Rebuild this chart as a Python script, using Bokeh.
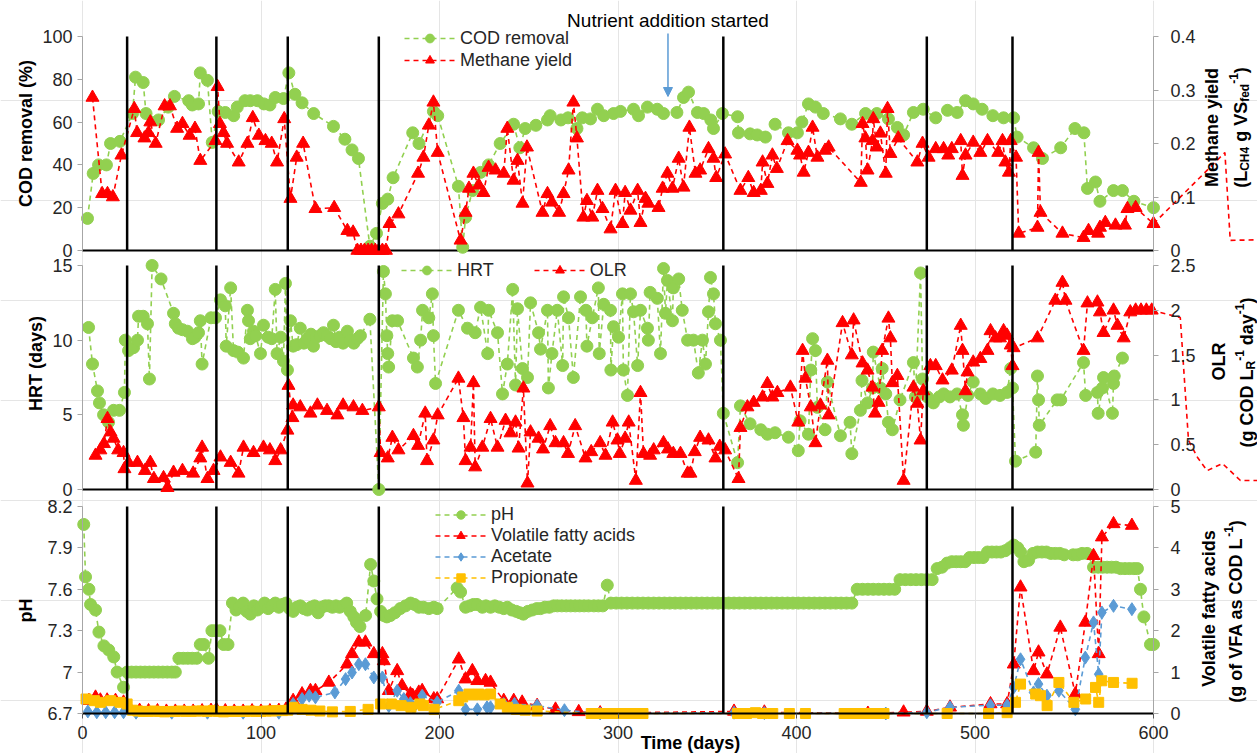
import math
from bokeh.plotting import figure
from bokeh.models import (Range1d, LinearAxis, FixedTicker, CustomJSTickFormatter,
                          Label, Legend, LegendItem, Arrow, NormalHead, ColumnDataSource)
from bokeh.embed import file_html
from bokeh.resources import INLINE

# ---------------- data (day, value) ----------------
x_min, x_max = 0, 600
phase_days = [25, 75, 115, 166, 359, 473, 521]
nutrient_day = 328

cod = [(2.8,15),(6,36),(9,40),(13.4,40),(15.7,50),(21,51),(28,64),(29.7,81),(34,78.5),(35.6,64),(42.6,61),(48,67),(51.5,72),(59.5,70),(61.5,68),(65,68.5),(66,83),(70,79.5),(72.7,50.5),(76,65),(80,64.5),(84.7,63),(86.7,67),(91,70),(94,70),(98,70),(101.6,68.5),(105,68),(108,71.5),(112.6,71),(115.6,83),(119,73),(123,69),(129.5,64),(140.6,58),(147,52),(151,47),(154.6,43),(161,2),(164.7,8),(168,22),(171,24),(174,34),(185,55),(188.5,50),(196.6,65),(199,63),(210.6,30),(213,1.5),(214.6,15.5),(218.5,28),(223,36.5),(227.5,40),(234,50),(241.5,59),(245,48),(248,57),(254,58.5),(260.5,61),(262,63),(268,61),(272,62),(277,57),(280,62),(284.6,61.5),(288.5,66),(292,63),(297.5,64),(301.4,65),(308.7,66),(311.5,63),(316.5,67),(322,66),(325.5,64),(333,64.5),(336.7,71.5),(339.5,74),(344.5,64.5),(348,64),(352,61),(353.5,57),(358.5,64),(367,62.5),(367.5,55),(374,54.5),(378,54),(382.6,53),(388,59),(395.5,55),(400.5,55),(403,60),(406.7,68.5),(410.6,67),(415,64),(424.6,61.5),(431,59),(438.7,64),(445,64),(451.5,61.5),(456.5,57.5),(460,54),(465.5,64.5),(471,66),(478,62),(484.6,65.5),(490,64.5),(494.7,70),(499,68.5),(504,66),(510,63),(516,62),(521.6,62),(523.6,53),(532.8,48),(537.8,43),(548,48),(556,57),(561,55),(563,29),(567.5,32),(570,23),(577.6,28),(582.6,28),(589,23),(600,20)]

methane = [(5.6,.286),(11,.106),(14,.106),(17,.1),(21.8,.178),(29,.265),(30.6,.22),(34.7,.21),(37,.22),(38,.24),(41,.2),(46,.27),(49,.27),(53,.228),(56,.237),(60,.215),(63,.228),(66,.168),(74.5,.205),(75.7,.306),(77,.237),(79,.22),(81,.2),(87.5,.165),(92.4,.2),(95.4,.248),(98.8,.215),(102.5,.205),(106,.2),(109,.165),(113,.246),(116.5,.097),(120,.174),(123.6,.2),(130.5,.078),(141,.08),(148.4,.037),(151.6,.034),(154,0),(156,0),(158,0),(160,0),(162,0),(164,0),(166,0),(168,0),(170,0),(172,.05),(177,.068),(188,.144),(191,.174),(194,.234),(196.6,.277),(199,.183),(211.8,.019),(214.6,.071),(216.5,.116),(219,.144),(222,.122),(224.6,.108),(227.5,.155),(231.4,.15),(236,.144),(238,.228),(241.5,.131),(243.7,.168),(246.5,.088),(249,.193),(257.7,.071),(260.5,.106),(263,.09),(267,.071),(269.5,.106),(272.3,.15),(275,.277),(277,.21),(280.6,.062),(282.6,.093),(285.6,.062),(288.5,.112),(291.3,.078),(295.8,.04),(298.6,.112),(302.5,.05),(304,.108),(307,.075),(311,.112),(312.6,.052),(315.4,.097),(317,.088),(322.7,.08),(325,.116),(327.7,.144),(330.5,.116),(334,.172),(336.7,.118),(340,.23),(343.4,.144),(346,.15),(350.7,.19),(353.5,.172),(355,.136),(360,.18),(368.6,.112),(373,.136),(376,.108),(380,.112),(381,.165),(383.7,.125),(386.5,.178),(389,.153),(395,.205),(400.5,.187),(402,.178),(404,.146),(406.7,.183),(409,.23),(411.7,.174),(416,.187),(418,.193),(436,.127),(437,.237),(438.6,.21),(439.8,.15),(442.6,.205),(443,.246),(445,.193),(447,.219),(450,.144),(451,.265),(452.6,.181),(457,.21),(467.7,.165),(470.6,.2),(474,.174),(478,.19),(482.4,.19),(485,.178),(487,.19),(492,.205),(493,.14),(494.7,.178),(499,.202),(503,.183),(507,.205),(513,.183),(515.4,.205),(517,.165),(519,.146),(520,.205),(523,.174),(524.5,.032),(535,.043),(535.6,.183),(536.7,.071),(549,.032),(560.8,.024),(563.6,.037),(569,.032),(570,.043),(573,.052),(578.7,.047),(584,.047),(585.4,.078),(590,.08),(600,.05)]
# the reference's dashed methane line runs on past the end of the axis (no markers)
methane_past_axis = [(600,.05),(640,.183),(643,.019),(660,.02)]

hrt = [(3.4,10.85),(5.6,8.4),(8.4,6.6),(9.5,5.8),(11.8,5.0),(14.6,4.5),(17.4,5.3),(20.7,5.3),(23.5,6.5),(24,10),(25.8,9.3),(28.6,9.5),(30.8,10),(31.4,11.6),(34,11.6),(36.4,11.1),(37.5,7.4),(39,15),(44,14.1),(51,11.8),(52,11.1),(53.8,10.8),(56,10.7),(58.8,10.6),(61.6,10.1),(63,10.2),(65,10.5),(66,11.3),(67,8.4),(72,11.5),(74.5,11.5),(77.3,12.7),(80,12.3),(80.5,9.6),(83,13.5),(84.6,9.3),(87,9.2),(90.2,8.8),(92.4,12),(93,11.3),(94,10.1),(95.8,10.6),(97,10.3),(99.7,9.1),(101.4,11),(104,10.2),(106,10.1),(108,13.4),(109,9.1),(111,10.2),(112.6,8.6),(113.7,13.8),(114.8,8.0),(116.5,11.3),(118,9.6),(120,9.7),(122,10.8),(124,9.8),(126,10.1),(128,10.4),(129.4,9.6),(131,10.2),(133,10.3),(135,10.5),(137,10.3),(139,10.1),(140.6,11),(142,9.9),(144,10.2),(146,9.8),(148.4,10.6),(150,10.0),(152,9.8),(154,10.1),(155.7,10.3),(161,11.4),(166,0),(168.6,14.6),(169.7,13.1),(170.5,10.3),(171,9.1),(171.5,8.2),(173.6,11.3),(176.5,11.3),(185.4,8.8),(187.6,8.2),(189.4,10),(190.5,12),(194,11.5),(196,13.1),(196.6,10.3),(197.8,7.1),(210.6,12),(215.7,10.8),(220,10.5),(223,12.2),(227,9.1),(227.5,12),(232.5,10.5),(235.3,6.4),(238,8.4),(241,13.4),(242.6,7.0),(243.7,12.1),(246.5,8.1),(249.3,7.5),(251,12.5),(255.5,10.5),(256.6,9.4),(260.5,12),(261,6.8),(263,9.1),(266,12),(269,8.3),(269.5,12.9),(272.3,11.5),(275,7.5),(279,12.9),(282,12),(282.6,9.6),(285.6,11.5),(289,13.5),(289.5,9.1),(292,12.4),(295.8,12),(296,8),(297.5,10.9),(300.3,10.2),(302.5,13.1),(303,8),(305.3,6.3),(307,13.1),(308.7,11.9),(311,8.3),(312.6,12),(316.5,10.8),(317,10),(318,13.2),(322,12.8),(323.8,9.1),(325.5,14.8),(326.6,11.8),(327.7,14),(330.5,11.3),(331,13.5),(334,14.1),(336,12),(339,10),(342.3,10),(345,7.8),(347.3,10),(349,8.4),(350.7,11.9),(351.8,14.2),(353.5,13.1),(354.6,11.1),(357.4,10),(359,5.1),(367,1.8),(368.6,5.6),(374,4.4),(380,4.0),(383.7,3.7),(388,3.8),(395.5,3.5),(401,2.6),(402,4.6),(406.7,3.7),(408,8.0),(409,10.1),(410.6,9.3),(411.7,5.5),(416,4.0),(417.3,7.2),(424.6,3.6),(430,4.5),(431,2.4),(435.8,5.3),(436.7,7.3),(439.8,5.8),(442.6,6.8),(443,9.2),(447,6.8),(448,8.1),(450,6.4),(451.5,4.5),(453.7,4.0),(458,6.0),(465.5,8.5),(466.6,6.2),(469.5,14.5),(470.6,7.4),(473.4,6.2),(476.7,5.8),(480,6.2),(482.4,6.4),(486,6.2),(490,6.4),(493,5.0),(493.5,4.3),(496,6.3),(499,7.2),(503,6.4),(506,6.1),(510,6.4),(514,6.3),(518,6.5),(520,8.1),(521,6.8),(522.7,1.9),(534,2.5),(535,7.6),(535.6,6.0),(536,4.3),(546,6.0),(548,6.0),(560.8,8.5),(562,6.3),(568.6,6.5),(569,5.1),(571.4,6.8),(572,7.5),(577,5.1),(577.6,7.1),(578,7.6),(582.6,8.8)]

olr = [(7.3,.38),(10,.44),(12,.51),(14,.79),(15.7,.64),(17.4,.57),(20,.44),(23,.41),(23.5,.23),(25.8,.30),(30.8,.30),(35,.21),(38,.30),(40,.12),(45.4,.13),(47.6,.02),(51,.19),(56,.21),(62,.18),(66,.35),(67,.47),(70,.12),(73.4,.21),(77.3,.36),(83,.30),(87.4,.18),(90.2,.47),(95.8,.41),(101.4,.47),(105,.44),(108,.32),(111,.44),(114.8,.66),(115.4,1.16),(117.6,.80),(118,.94),(122,.92),(127.7,.85),(131.6,.94),(137,.88),(142.8,.83),(146,.94),(151.8,.92),(156.8,.88),(166,.92),(167,.41),(171,.35),(173.6,.58),(177,.44),(185.4,.60),(188,.49),(192,.85),(193,.32),(196.6,.55),(199,.83),(210.6,1.24),(213.4,.80),(214.6,.32),(217.4,.47),(219,1.19),(220,.25),(224,.47),(228.6,.79),(232.5,.47),(237,.77),(239.8,.63),(242.6,.75),(244.3,.46),(247,1.13),(249.3,.07),(251,.64),(255.5,.57),(258,.45),(262,.71),(265,.52),(269.5,.52),(272,.40),(276,.71),(281.8,.35),(285,.42),(290,.52),(293,.38),(297,.75),(299.7,.55),(301,.40),(304,.57),(306,.75),(310,.10),(312.6,1.08),(314.3,.40),(318,.38),(320,.44),(325.5,.52),(328,.45),(331,.40),(335,.40),(339,.18),(340.6,.18),(343,.42),(346,.58),(350.7,.55),(354.6,.35),(357,.48),(360,.44),(367.5,.12),(368.6,.69),(372.5,.92),(376,.97),(381,1.03),(383.7,1.18),(386.5,1.03),(389.3,1.08),(396.6,1.14),(401,.75),(403.4,1.55),(405,1.24),(408,.92),(410.6,.52),(413.4,.94),(417.3,1.44),(418,.83),(425.8,1.86),(431,1.50),(432,1.89),(437,1.41),(439.8,1.33),(442.6,1.14),(444,.85),(446,.97),(448,1.55),(451.5,1.91),(452.6,1.69),(453.7,1.19),(456.5,1.27),(460,.10),(465.5,1.14),(467.7,.96),(469.5,.55),(471,1.10),(475,1.38),(478,1.38),(481.8,1.22),(487,1.33),(492,1.83),(493,1.55),(494.7,1.10),(495.8,1.31),(499,1.42),(503,1.46),(507,1.55),(508.7,1.77),(511.5,1.69),(514,1.69),(516,1.77),(518,1.72),(520,1.61),(521,1.38),(521.6,1.58),(535,1.69),(545,2.11),(549,2.31),(550.7,2.11),(560.8,1.55),(563,2.08),(568.6,2.09),(570,1.98),(572,1.75),(577.6,2.0),(579.8,1.83),(583.3,1.69),(587,1.98),(590,2.0),(593,2.0),(596,2.0),(599,2.0)]
olr_past_axis = [(599,2.0),(615,1.92),(619.6,.55),(624.6,.36),(630,.21),(638.6,.29),(648.7,.10),(660,.10)]

ph = [(0.7,8.07),(1.7,7.69),(3.6,7.6),(4.5,7.49),(7.3,7.45),(9.2,7.29),(12,7.19),(14.7,7.16),(17.5,7.11),(19.4,7.0),(23,6.89),(25,7.0),(27.5,7.0),(30,7.0),(32.5,7.0),(35,7.0),(37.5,7.0),(40,7.0),(42.5,7.0),(45,7.0),(47.5,7.0),(50,7.0),(52,7.0),(54,7.1),(56.5,7.1),(59,7.1),(61.5,7.1),(64,7.1),(66,7.2),(68,7.2),(70.6,7.1),(72.5,7.3),(74.5,7.3),(77,7.3),(79,7.2),(81.5,7.2),(84,7.5),(86,7.45),(88,7.47),(90,7.5),(92,7.44),(94,7.42),(96,7.48),(98,7.45),(100,7.47),(102,7.5),(104,7.46),(106,7.48),(108,7.5),(110,7.47),(112,7.49),(114,7.5),(116,7.46),(118,7.44),(120,7.47),(122,7.48),(124,7.46),(126,7.45),(128,7.47),(130,7.48),(132,7.43),(134,7.47),(136,7.48),(138,7.48),(140,7.47),(142,7.48),(144,7.47),(146,7.48),(148,7.5),(150,7.44),(152,7.4),(153.5,7.36),(155.4,7.33),(158.6,7.41),(161.4,7.78),(163.2,7.66),(165,7.53),(167,7.44),(168.8,7.41),(170.5,7.4),(172.5,7.41),(175,7.43),(178,7.46),(181,7.48),(183.8,7.5),(186,7.49),(188.5,7.47),(191,7.47),(194,7.46),(196.8,7.47),(198.7,7.46),(209.9,7.61),(211.8,7.58),(214.6,7.47),(217,7.48),(219,7.49),(221,7.49),(224,7.47),(226,7.48),(228.6,7.47),(231,7.48),(233.5,7.47),(236,7.46),(238,7.47),(240.5,7.45),(243,7.44),(245,7.43),(247,7.42),(249.5,7.44),(252,7.45),(254.5,7.46),(256.6,7.46),(259,7.47),(261.5,7.47),(264,7.48),(266,7.48),(268.5,7.48),(271,7.48),(273.5,7.48),(276,7.48),(278.5,7.48),(281,7.48),(283.5,7.48),(286.5,7.48),(289,7.48),(291.5,7.48),(294,7.63),(296,7.5),(299,7.5),(302,7.5),(305,7.5),(308,7.5),(311,7.5),(314,7.5),(317,7.5),(320,7.5),(323,7.5),(326,7.5),(329,7.5),(332,7.5),(335,7.5),(338,7.5),(341,7.5),(344,7.5),(347,7.5),(350,7.5),(353,7.5),(356,7.5),(359,7.5),(362,7.5),(365,7.5),(368,7.5),(371,7.5),(374,7.5),(377,7.5),(380,7.5),(383,7.5),(386,7.5),(389,7.5),(392,7.5),(395,7.5),(398,7.5),(401,7.5),(404,7.5),(407,7.5),(410,7.5),(413,7.5),(416,7.5),(419,7.5),(422,7.5),(425,7.5),(428,7.5),(431,7.5),(434,7.6),(437,7.6),(440,7.6),(443,7.6),(446,7.6),(449,7.6),(452,7.6),(455,7.6),(458,7.67),(461,7.67),(464,7.67),(467,7.67),(470,7.67),(473,7.67),(476,7.67),(478.8,7.75),(481.5,7.76),(484.4,7.79),(487,7.8),(489.5,7.8),(492,7.8),(494.5,7.8),(497,7.83),(499.5,7.83),(502,7.83),(504.5,7.83),(507,7.87),(509.5,7.87),(512,7.87),(514.5,7.87),(517,7.88),(519.5,7.9),(521.7,7.92),(524,7.9),(525.5,7.87),(527.4,7.8),(530,7.81),(532.5,7.86),(535,7.87),(537.5,7.87),(540,7.87),(542.5,7.86),(545,7.86),(547.5,7.86),(550,7.85),(555,7.85),(557.5,7.85),(560,7.86),(562.8,7.86),(566.4,7.76),(569,7.76),(571.5,7.76),(574,7.76),(576.5,7.76),(579,7.76),(581.5,7.75),(584,7.75),(586.5,7.75),(589,7.75),(591,7.75),(592.7,7.6),(594.6,7.4),(598.3,7.2),(600,7.2)]

vfa = [(3.6,.31),(7.3,.39),(10,.32),(13.8,.32),(18.5,.31),(23,.27),(27,.08),(32,.07),(37,.06),(42,.06),(47,.05),(52,.05),(57,.05),(62,.05),(67,.06),(72,.07),(75,.09),(80,.06),(85,.05),(90,.05),(95,.06),(100,.05),(105,.06),(110,.07),(114,.1),(118,.31),(123,.47),(127.7,.55),(130.5,.55),(138,.75),(148.3,1.19),(151,1.44),(154.8,1.72),(158.5,1.72),(163.2,1.44),(168,1.44),(168.8,1.27),(171.6,.55),(176.3,1.03),(179,.67),(183.7,.47),(185,.43),(188.4,.51),(190.3,.55),(196.8,.35),(198.7,.35),(210.8,1.31),(214.6,.83),(218.4,1.03),(221.2,.79),(225.8,.79),(228.6,.75),(236,.31),(241.6,.31),(246.3,.27),(254.7,.19),(265,.1),(278,.04),(290,.01),(365,.05),(382,.03),(440,0),(460,.03),(473,.05),(486,.15),(508.7,.23),(518,.23),(521.7,1.19),(525.5,3.05),(532.8,1.03),(535.6,1.48),(540.3,.95),(547.8,2.08),(556.2,.47),(561.8,2.2),(566.4,3.81),(569.3,1.44),(571.1,4.26),(577.6,4.58),(587.9,4.54)]

acetate = [(3,.05),(8,.03),(13,.03),(18,.03),(23,.03),(30,.02),(50,.02),(70,.02),(90,.02),(110,.02),(118,.23),(123,.35),(127,.43),(130.5,.39),(141.4,.51),(147.4,.83),(151,.99),(154.8,1.19),(158.5,1.19),(163.2,.87),(168,.87),(171.6,.18),(176.3,.55),(180,.35),(183.7,.25),(185.5,.15),(190.3,.43),(198.7,.27),(210.8,.55),(214.6,.1),(221.2,.1),(226.6,.15),(228.6,.15),(236,.23),(242,.23),(254.7,.19),(270,.08),(290,0),(365,.02),(382,.01),(450,0),(473,.03),(486,.15),(508.7,.2),(518,.2),(521.7,.63),(525.5,1.31),(532.8,.51),(535.6,.71),(540.3,.43),(547,.55),(556.2,.1),(561.8,1.35),(566.4,2.2),(569.3,.95),(571.1,2.44),(577.6,2.6),(587.9,2.52)]

propionate = [(2,.35),(6.7,.31),(10,.27),(15.7,.31),(21,.27),(25,.23),(28,.08),(31,.06),(34,.05),(37,.05),(40,.06),(43,.05),(46,.04),(49,.05),(52,.05),(55,.06),(58,.05),(61,.05),(64,.06),(67,.06),(70,.05),(73,.07),(76,.05),(79,.04),(82,.05),(85,.05),(88,.05),(91,.05),(94,.06),(97,.05),(100,.05),(103,.06),(106,.06),(109,.07),(112,.07),(115,.08),(118,.15),(123,.1),(128,.08),(133,.06),(140,.04),(150,.05),(160,.1),(167,.23),(173,.23),(178.5,.19),(184,.15),(189,.23),(191,.19),(197,.1),(210.8,.31),(213,.4),(216.5,.47),(219,.45),(222,.47),(225,.45),(228.6,.47),(234,.23),(238,.15),(243,.1),(248,.08),(254.7,.06),(285,0),(290,0),(295,0),(300,0),(305,0),(310,0),(314,0),(367,0),(372,0),(377,.02),(381,0),(386.7,0),(396,0),(405,0),(426.7,0),(430,0),(435,0),(440,0),(445,0),(449,0),(484.4,0),(507.6,0),(518,.02),(522.7,.27),(525.5,.71),(534,.47),(536.7,.43),(540.4,.19),(547,.75),(555.4,.27),(562,.35),(567.5,.63),(569.3,.27),(571,.79),(577.6,.75),(588,.73)]

x_ticks = [0, 100, 200, 300, 400, 500, 600]
cod_ticks = [0, 20, 40, 60, 80, 100]
methane_ticks = [0, 0.1, 0.2, 0.3, 0.4]
hrt_ticks = [0, 5, 10, 15]
olr_ticks = [0, 0.5, 1, 1.5, 2, 2.5]
ph_ticks = [6.7, 7.0, 7.3, 7.6, 7.9, 8.2]
vfa_ticks = [0, 1, 2, 3, 4, 5]

# ---------------- styling / layout (page pixels) ----------------
GREEN = "#92D050"; RED = "#FF0000"; BLUE = "#5B9BD5"; ORANGE = "#FFC000"
FONT = "Liberation Sans"
AX_GREY = "#A6A6A6"
TXT = "#262626"
W, H = 1257, 753
F_LEFT, F_RIGHT = 82, 1153          # page x of day 0 and day 600
XR = (x_min - F_LEFT * (x_max - x_min) / (F_RIGHT - F_LEFT),
      x_max + (W - F_RIGHT) * (x_max - x_min) / (F_RIGHT - F_LEFT))
# panel plot areas (page y of top and bottom)
PANELS = {"top": (36, 250), "mid": (265, 489), "bot": (506, 713)}

BOLD_W = {' ': 278, '(': 333, ')': 333, '-': 333, '1': 556, '4': 556, 'A': 722, 'C': 722,
          'D': 722, 'F': 611, 'H': 722, 'L': 611, 'O': 778, 'R': 722, 'S': 667, 'V': 667,
          'a': 556, 'd': 611, 'e': 556, 'f': 333, 'g': 611, 'o': 611, 's': 556, 'y': 556}


def tw(s, size):
    return sum(BOLD_W.get(c, 556) for c in s) * size / 1000.0


fmt_code = "return String(Math.round(tick*10)/10);"


def full_range(lim, panel):
    T, B = PANELS[panel]
    v0, v1 = lim
    per = (v1 - v0) / (B - T)
    return Range1d(v0 - (H - B) * per, v1 + T * per)


def style_axis(ax, standoff, line_color=AX_GREY, tick_color=AX_GREY, line_width=1):
    ax.axis_line_color = line_color
    ax.axis_line_width = line_width
    ax.major_tick_line_color = tick_color
    ax.major_tick_out = 5
    ax.major_tick_in = 0
    ax.minor_tick_line_color = None
    ax.major_label_text_font = FONT
    ax.major_label_text_font_size = "18px"
    ax.major_label_text_color = TXT
    ax.major_label_standoff = standoff


# one figure for the whole page: default y range is page pixels (top = 0)
p = figure(title=None, width=W, height=H, x_range=Range1d(*XR), y_range=Range1d(H, 0),
           output_backend="svg", toolbar_location=None, min_border=0,
           x_axis_location=None, y_axis_location=None)
p.min_border_left = p.min_border_right = p.min_border_top = p.min_border_bottom = 0
p.outline_line_color = None


def panel(panel_name, n1, lim1, ticks1, n2, lim2, ticks2):
    p.extra_y_ranges[n1] = full_range(lim1, panel_name)
    p.extra_y_ranges[n2] = full_range(lim2, panel_name)
    ax1 = LinearAxis(y_range_name=n1, fixed_location=x_min, bounds=lim1,
                     ticker=FixedTicker(ticks=ticks1),
                     formatter=CustomJSTickFormatter(code=fmt_code))
    style_axis(ax1, 5)
    p.add_layout(ax1, "left")
    ax2 = LinearAxis(y_range_name=n2, fixed_location=x_max, bounds=lim2,
                     ticker=FixedTicker(ticks=ticks2),
                     formatter=CustomJSTickFormatter(code=fmt_code))
    style_axis(ax2, 12)
    p.add_layout(ax2, "right")
    k = len(phase_days)
    p.segment(x0=phase_days, x1=phase_days, y0=[lim1[0]] * k, y1=[lim1[1]] * k,
              line_color="black", line_width=2.5, level="overlay", y_range_name=n1)


def baseline(name, y):
    p.segment(x0=[x_min], x1=[x_max], y0=[y], y1=[y], line_color="black", line_width=2,
              y_range_name=name)


def dx(px):
    return x_min + (px - F_LEFT) / (F_RIGHT - F_LEFT) * (x_max - x_min)


def series(data, color, marker, size, yname):
    src = ColumnDataSource(dict(x=[d for d, v in data], y=[v for d, v in data]))
    l = p.line("x", "y", source=src, line_color=color, line_width=1.6, line_dash="5 4",
               y_range_name=yname)
    s = p.scatter("x", "y", source=src, marker=marker, size=size, fill_color=color,
                  line_color=color, y_range_name=yname)
    return [l, s]


def line_only(data, color, yname):
    p.line([d for d, v in data], [v for d, v in data], line_color=color, line_width=1.6,
           line_dash="5 4", y_range_name=yname)


def label(px, py, text, size=18, bold=True, angle=0.0, align="center", baseline="middle"):
    p.add_layout(Label(x=dx(px), y=py, text=text, angle=angle, text_align=align,
                       text_baseline=baseline, text_font=FONT, text_font_size=f"{size}px",
                       text_font_style="bold" if bold else "normal", text_color="black"))


def rot_pieces(pieces, base_px, center_py):
    total = sum(tw(t, 18 if k == "n" else 12) for t, k in pieces)
    y = center_py + total / 2.0
    for txt, kind in pieces:
        size = 18 if kind == "n" else 12
        shift = {"n": 0, "sub": 4, "sup": -7}[kind]
        lead = len(txt) - len(txt.lstrip())
        y -= tw(" " * lead, size)
        core = txt.lstrip()
        label(base_px + shift, y, core, size=size, angle=math.pi / 2, align="left",
              baseline="alphabetic")
        y -= tw(core, size)


def legend(items, box_left, box_bottom, orientation="vertical", row_h=22, spacing=0):
    lg = Legend(items=[LegendItem(label=t, renderers=r) for t, r in items],
                location=(box_left, H - box_bottom), orientation=orientation,
                label_text_font=FONT, label_text_font_size="18px", label_text_color=TXT,
                glyph_width=51, glyph_height=row_h, label_height=row_h, label_standoff=5,
                padding=0, margin=0, spacing=spacing,
                background_fill_alpha=0, border_line_alpha=0)
    p.add_layout(lg)


# ---------------- top panel ----------------
panel("top", "cod", (0, 100), cod_ticks, "meth", (0, 0.4), methane_ticks)
baseline("cod", 0)
r_cod = series(cod, GREEN, "circle", 12, "cod")
r_meth = series(methane, RED, "triangle", 13, "meth")
line_only(methane_past_axis, RED, "meth")
legend([("COD removal", r_cod), ("Methane yield", r_meth)], 404, 71)
label(25, 133, "COD removal (%)", angle=math.pi / 2)
label(1211, 127, "Methane yield", angle=math.pi / 2)
rot_pieces([("(L", "n"), ("CH4", "sub"), (" g VS", "n"), ("fed", "sub"), ("-1", "sup"),
            (")", "n")], 1240, 127)
label(F_LEFT + (nutrient_day - x_min) / (x_max - x_min) * (F_RIGHT - F_LEFT), 20,
      "Nutrient addition started", size=19, bold=False)
p.add_layout(Arrow(x_start=nutrient_day, y_start=33, x_end=nutrient_day, y_end=96,
                   line_color=BLUE, line_width=1.5,
                   end=NormalHead(size=9, fill_color=BLUE, line_color=BLUE)))

# ---------------- middle panel ----------------
panel("mid", "hrt", (0, 15), hrt_ticks, "olr", (0, 2.5), olr_ticks)
baseline("hrt", 0)
r_hrt = series(hrt, GREEN, "circle", 12, "hrt")
r_olr = series(olr, RED, "triangle", 13, "olr")
line_only(olr_past_axis, RED, "olr")
legend([("HRT", r_hrt), ("OLR", r_olr)], 401, 281, orientation="horizontal", spacing=40)
label(35, 363, "HRT (days)", angle=math.pi / 2)
label(1218, 361, "OLR", angle=math.pi / 2)
rot_pieces([("(g COD L", "n"), ("R", "sub"), ("-1", "sup"), (" day", "n"), ("-1", "sup"),
            (")", "n")], 1246, 372)

# ---------------- bottom panel ----------------
panel("bot", "ph", (6.7, 8.2), ph_ticks, "vfa", (0, 5), vfa_ticks)
xax = LinearAxis(y_range_name="ph", fixed_location=6.7, bounds=(x_min, x_max),
                 ticker=FixedTicker(ticks=x_ticks))
style_axis(xax, 7, line_color="black", tick_color="#595959", line_width=2)
p.add_layout(xax, "below")
r_ph = series(ph, GREEN, "circle", 12, "ph")
r_vfa = series(vfa, RED, "triangle", 13, "vfa")
r_ac = series(acetate, BLUE, "diamond", 13, "vfa")
r_pr = series(propionate, ORANGE, "square", 10, "vfa")
legend([("pH", r_ph), ("Volatile fatty acids", r_vfa), ("Acetate", r_ac),
        ("Propionate", r_pr)], 435, 588, row_h=21)
label(25, 610, "pH", angle=math.pi / 2)
label(1208, 608, "Volatile fatty acids", angle=math.pi / 2)
rot_pieces([("(g of VFA as COD L", "n"), ("-1", "sup"), (")", "n")], 1235, 611)
label(690, 742, "Time (days)")

open("out.html", "w").write(file_html(p, INLINE))
